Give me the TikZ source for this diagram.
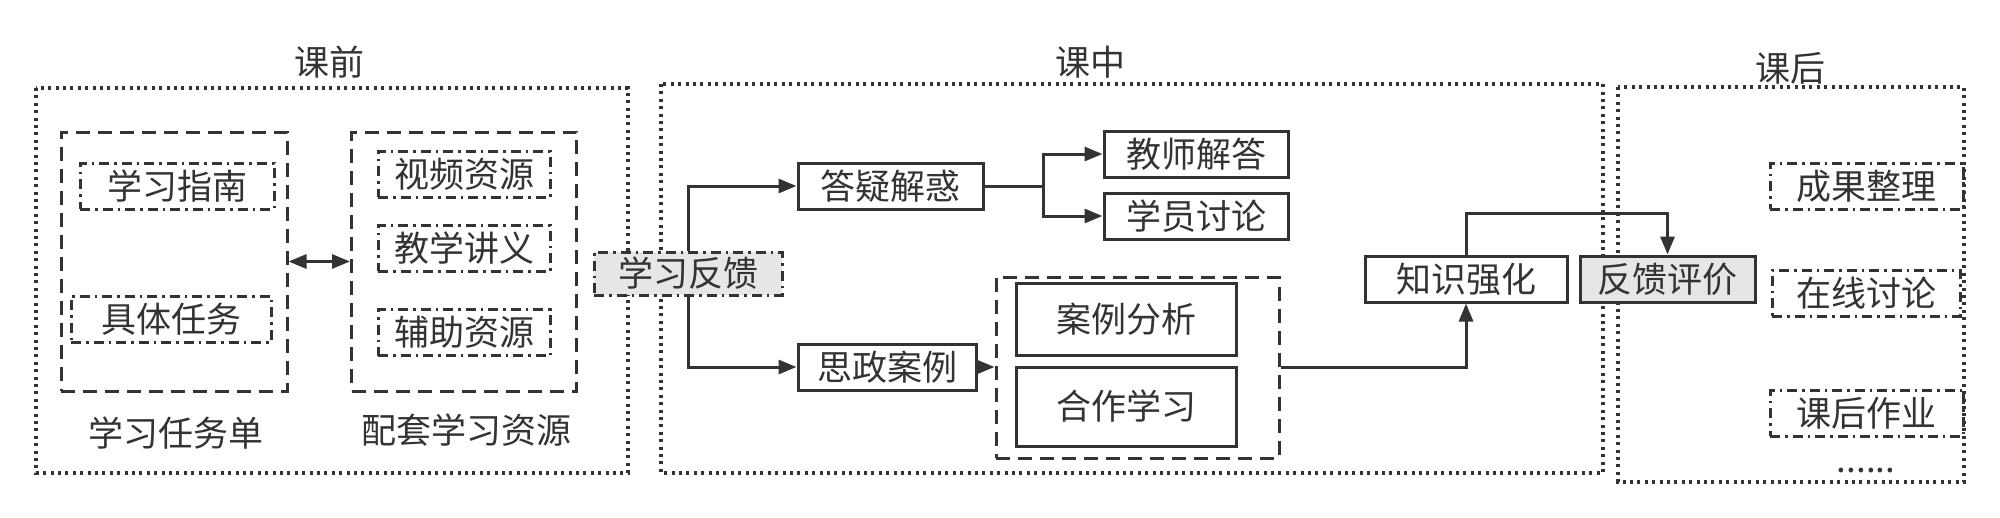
\documentclass[tikz,border=0pt]{standalone}
\usepackage{fontspec}
\newfontfamily\cjk{Noto Sans CJK SC}
\usetikzlibrary{arrows.meta}
\definecolor{ink}{HTML}{333333}
\definecolor{shade}{HTML}{E6E6E6}
\tikzset{
  base/.style={font=\cjk\fontsize{35}{40}\selectfont, text=ink, inner sep=0pt, align=center},
  lbl/.style={base},
  dotbox/.style={draw=ink, line width=3.2pt, dash pattern=on 3pt off 4.4pt},
  dashbox/.style={base, draw=ink, line width=3pt, dash pattern=on 14pt off 8pt},
  ddbox/.style={base, draw=ink, line width=3pt, dash pattern=on 10pt off 5pt on 2.5pt off 5pt},
  solidbox/.style={base, draw=ink, line width=3pt},
  graybox/.style={fill=shade},
  conn/.style={draw=ink, line width=3pt},
  arr/.style={conn, -{Triangle[length=18pt,width=14pt]}},
  darr/.style={conn, {Triangle[length=18pt,width=14pt]}-{Triangle[length=18pt,width=14pt]}},
}
\begin{document}
\begin{tikzpicture}[x=1pt,y=-1pt]
\useasboundingbox (0,0) rectangle (2000,517);
% phase containers
\draw[dotbox] (36,88) rectangle (628,473);
\draw[dotbox] (661,84) rectangle (1603,473);
\draw[dotbox] (1618,87) rectangle (1964,482);
\node[lbl] (lpre) at (329,62) {课前};
\node[lbl] (lmid) at (1090,62) {课中};
\node[lbl] (lpost) at (1790,68) {课后};
% before class
\node[dashbox, minimum width=226pt, minimum height=259pt] (task) at (174,261.5) {};
\node[ddbox, minimum width=194pt, minimum height=46pt] (guide) at (177,186) {学习指南};
\node[ddbox, minimum width=200pt, minimum height=46pt] (spec) at (171,319) {具体任务};
\node[lbl] (tasklbl) at (176,433) {学习任务单};
\node[dashbox, minimum width=225pt, minimum height=259pt] (res) at (464,261.5) {};
\node[ddbox, minimum width=172pt, minimum height=46pt] (video) at (464,174) {视频资源};
\node[ddbox, minimum width=172pt, minimum height=46pt] (notes) at (464,248) {教学讲义};
\node[ddbox, minimum width=172pt, minimum height=46pt] (aux) at (464,332.5) {辅助资源};
\node[lbl] (reslbl) at (466,430) {配套学习资源};
\draw[darr] (task) -- (res);
% in class
\node[ddbox, graybox, minimum width=188pt, minimum height=43pt] (fb) at (688,273.5) {学习反馈};
\node[solidbox, minimum width=185pt, minimum height=46pt] (dy) at (890.5,186) {答疑解惑};
\node[solidbox, minimum width=178pt, minimum height=46pt] (sz) at (887,367) {思政案例};
\node[solidbox, minimum width=184pt, minimum height=46pt] (js) at (1196,154) {教师解答};
\node[solidbox, minimum width=184pt, minimum height=46pt] (xy) at (1196,216) {学员讨论};
\node[dashbox, minimum width=283pt, minimum height=181pt] (grp) at (1137.5,367.5) {};
\node[solidbox, minimum width=220pt, minimum height=72pt] (al) at (1126,319) {案例分析};
\node[solidbox, minimum width=220pt, minimum height=79pt] (hz) at (1126,406.5) {合作学习};
\node[solidbox, minimum width=202pt, minimum height=46pt] (zs) at (1466,279) {知识强化};
\node[solidbox, graybox, minimum width=175pt, minimum height=46pt] (fp) at (1667.5,279) {反馈评价};
% after class
\node[ddbox, minimum width=193pt, minimum height=46pt] (cg) at (1866.5,186) {成果整理};
\node[ddbox, minimum width=188pt, minimum height=46pt] (zx) at (1866,293) {在线讨论};
\node[ddbox, minimum width=193pt, minimum height=46pt] (kh) at (1866.5,413) {课后作业};
\node[lbl] (more) at (1866,471) {......};
% connectors
\draw[arr] (fb.north) |- (dy.west);
\draw[arr] (fb.south) |- (sz.west);
\coordinate (fork) at (1043,186);
\draw[conn] (dy.east) -- (fork);
\draw[arr] (fork) |- (js.west);
\draw[arr] (fork) |- (xy.west);
\draw[arr] (sz.east) -- (sz.east -| grp.west);
\draw[arr] (grp.east) -| (zs.south);
\coordinate (up) at (1466,213);
\draw[arr] (zs.north) -- (up) -| (fp.north);
\end{tikzpicture}
\end{document}
